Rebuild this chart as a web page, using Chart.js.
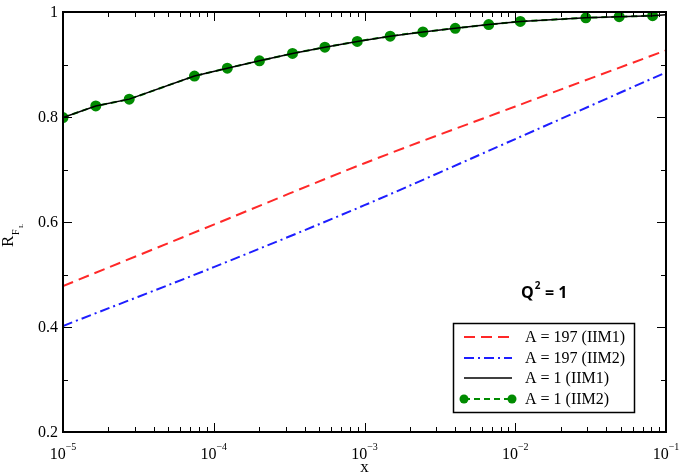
<!DOCTYPE html>
<html lang="en">
<head>
  <meta charset="UTF-8">
  <title>R_FL vs x</title>
  <script src="https://cdn.jsdelivr.net/npm/chart.js"></script>
  <style>
    body { margin: 0; background: #fff; }
    #wrap { width: 686px; height: 474px; position: relative; }
  </style>
</head>
<body>
  <div id="wrap"><canvas id="chart"></canvas></div>

  <script>
    // values
    const xCurve = [1e-5, 1e-4, 1e-3, 1e-2, 1e-1];
    const rA197iim1 = [0.478, 0.595, 0.712, 0.820, 0.927];
    const rA197iim2 = [0.402, 0.514, 0.632, 0.758, 0.885];

    const xPoints = [1e-5, 1.65e-5, 2.75e-5, 7.45e-5, 1.23e-4, 2.01e-4, 3.33e-4, 5.46e-4, 8.95e-4,
                     1.48e-3, 2.44e-3, 4.0e-3, 6.67e-3, 1.08e-2, 2.94e-2, 4.89e-2, 8.15e-2];
    const rA1iim2 = [0.799, 0.821, 0.834, 0.878, 0.893, 0.907, 0.921, 0.933, 0.944,
                     0.954, 0.962, 0.969, 0.976, 0.982, 0.989, 0.991, 0.993];
    const xA1iim1 = xPoints.concat([1e-1]);
    const rA1iim1 = rA1iim2.concat([0.995]);

    const xTickExp = [-5, -4, -3, -2, -1];
    const yTicks = [0.2, 0.4, 0.6, 0.8, 1];
    const yTickLabels = ['0.2', '0.4', '0.6', '0.8', '1'];
    const legendLabels = ['A = 197 (IIM1)', 'A = 197 (IIM2)', 'A = 1 (IIM1)', 'A = 1 (IIM2)'];

    const GREEN = 'rgb(0,139,0)';
    const SERIF = '"Liberation Serif", "DejaVu Serif", serif';

    const toPts = (xs, ys) => xs.map((x, i) => ({ x: x, y: ys[i] }));

    const frame = {
      id: 'frame',
      afterDraw(chart) {
        const ctx = chart.ctx;
        const a = chart.chartArea;
        const xs = chart.scales.x, ys = chart.scales.y;
        ctx.save();
        ctx.strokeStyle = '#000';
        ctx.fillStyle = '#000';
        ctx.lineWidth = 2;
        ctx.strokeRect(a.left, a.top, a.right - a.left, a.bottom - a.top);

        // ticks, pointing inward on all four sides
        ctx.lineWidth = 1;
        ctx.beginPath();
        xTickExp.forEach(e => {
          for (let k = 1; k <= 9; k++) {
            if (e === -1 && k > 1) break;
            const px = Math.round(xs.getPixelForValue(k * Math.pow(10, e))) + 0.5;
            const len = k === 1 ? 9 : 5;
            ctx.moveTo(px, a.bottom); ctx.lineTo(px, a.bottom - len);
            ctx.moveTo(px, a.top); ctx.lineTo(px, a.top + len);
          }
        });
        for (let v = 0.2; v <= 1.001; v += 0.1) {
          const py = Math.round(ys.getPixelForValue(v)) + 0.5;
          const major = Math.round(v * 10) % 2 === 0;
          const len = major ? 9 : 5;
          ctx.moveTo(a.left, py); ctx.lineTo(a.left + len, py);
          ctx.moveTo(a.right, py); ctx.lineTo(a.right - len, py);
        }
        ctx.stroke();

        // y tick labels
        ctx.font = '16px ' + SERIF;
        ctx.textAlign = 'right';
        ctx.textBaseline = 'middle';
        yTicks.forEach((v, i) => {
          ctx.fillText(yTickLabels[i], a.left - 5, ys.getPixelForValue(v) + 1);
        });

        // x tick labels 10^e
        ctx.textBaseline = 'alphabetic';
        xTickExp.forEach(e => {
          const px = xs.getPixelForValue(Math.pow(10, e));
          ctx.font = '16px ' + SERIF;
          const w1 = ctx.measureText('10').width;
          ctx.font = '10px ' + SERIF;
          const sup = String(e).replace('-', '\u2212');
          const w2 = ctx.measureText(sup).width;
          const left = px - (w1 + w2) / 2;
          ctx.textAlign = 'left';
          ctx.font = '16px ' + SERIF;
          ctx.fillText('10', left, 459);
          ctx.font = '10px ' + SERIF;
          ctx.fillText(sup, left + w1, 450);
        });

        // axis titles
        ctx.font = '17px ' + SERIF;
        ctx.textAlign = 'center';
        ctx.fillText('x', (a.left + a.right) / 2, 472);

        ctx.save();
        ctx.translate(13, 247);
        ctx.rotate(-Math.PI / 2);
        ctx.textAlign = 'left';
        ctx.font = '17px ' + SERIF;
        ctx.fillText('R', 0, 0);
        ctx.font = '10px ' + SERIF;
        ctx.fillText('F', 12, 6);
        ctx.font = '7px ' + SERIF;
        ctx.fillText('L', 19, 10);
        ctx.restore();

        // Q^2 = 1
        ctx.textAlign = 'left';
        ctx.font = 'bold 16px "Open Sans", "Liberation Sans", sans-serif';
        ctx.fillText('Q', 521, 298);
        const qw = ctx.measureText('Q').width;
        ctx.font = 'bold 10px "Open Sans", "Liberation Sans", sans-serif';
        ctx.fillText('2', 521 + qw + 1, 289);
        ctx.font = 'bold 16px "Open Sans", "Liberation Sans", sans-serif';
        ctx.fillText(' = 1', 521 + qw + 7, 298);

        // legend
        ctx.lineWidth = 1.5;
        ctx.strokeRect(453.5, 323.5, 181, 89);
        const rows = [337, 358, 378, 399];
        chart.data.datasets.forEach((ds, i) => {
          const y = rows[i];
          ctx.save();
          ctx.strokeStyle = ds.borderColor;
          ctx.lineWidth = ds.borderWidth;
          ctx.setLineDash(ds.borderDash || []);
          ctx.beginPath();
          ctx.moveTo(464, y); ctx.lineTo(512, y);
          ctx.stroke();
          if (ds.pointRadius) {
            ctx.fillStyle = ds.pointBackgroundColor;
            [464, 512].forEach(px => {
              ctx.beginPath(); ctx.arc(px, y, 4.5, 0, Math.PI * 2); ctx.fill();
            });
          }
          ctx.restore();
          ctx.font = '16px ' + SERIF;
          ctx.textBaseline = 'middle';
          ctx.fillText(legendLabels[i], 525, y + 1);
        });
        ctx.restore();
      }
    };

    new Chart(document.getElementById('chart').getContext('2d'), {
      type: 'line',
      data: {
        datasets: [
          {
            label: legendLabels[0],
            data: toPts(xCurve, rA197iim1),
            borderColor: 'rgb(255,40,40)',
            borderWidth: 2,
            borderDash: [11, 6],
            pointRadius: 0,
            tension: 0.3,
          },
          {
            label: legendLabels[1],
            data: toPts(xCurve, rA197iim2),
            borderColor: 'rgb(30,30,255)',
            borderWidth: 2,
            borderDash: [10, 4, 2, 4],
            pointRadius: 0,
            tension: 0.3,
          },
          {
            label: legendLabels[2],
            data: toPts(xA1iim1, rA1iim1),
            borderColor: '#000',
            borderWidth: 1.5,
            pointRadius: 0,
          },
          {
            label: legendLabels[3],
            data: toPts(xPoints, rA1iim2),
            borderColor: GREEN,
            borderWidth: 2,
            borderDash: [6, 4],
            pointRadius: 4.5,
            pointBackgroundColor: GREEN,
            pointBorderColor: GREEN,
          },
        ],
      },
      options: {
        responsive: true,
        maintainAspectRatio: false,
        animation: false,
        layout: { padding: { left: 63, right: 20, top: 12, bottom: 42 } },
        plugins: { legend: { display: false }, tooltip: { enabled: false } },
        scales: {
          x: { type: 'logarithmic', min: 1e-5, max: 1e-1, display: false },
          y: { type: 'linear', min: 0.2, max: 1, display: false },
        },
      },
      plugins: [frame],
    });
  </script>
</body>
</html>
